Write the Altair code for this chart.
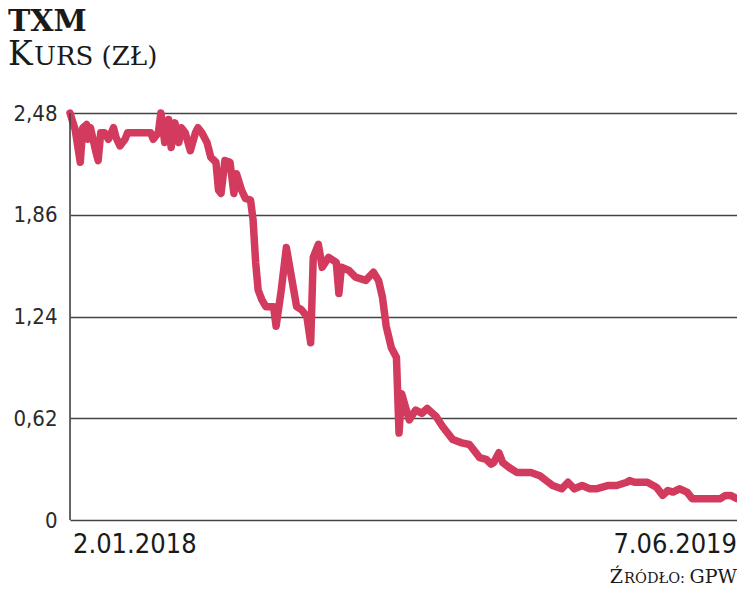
import altair as alt
import pandas as pd

# Days since 2.01.2018 and closing price (zł)
days = [0, 4, 8, 10, 13, 14, 16, 20, 22, 24, 27, 30, 34, 36, 39, 43, 45, 55, 63, 65,
        69, 71, 74, 77, 79, 82, 85, 87, 90, 94, 98, 100, 103, 107, 110, 114, 116, 118,
        121, 125, 128, 130, 134, 137, 141, 143, 145, 147, 150, 153, 159, 161, 165, 169,
        173, 177, 181, 185, 188, 190, 194, 197, 202, 208, 210, 212, 218, 223, 231, 237,
        241, 244, 247, 251, 255, 257, 259, 262, 265, 270, 275, 279, 286, 291, 299, 306,
        312, 320, 325, 329, 331, 335, 338, 343, 349, 353, 360, 367, 372, 377, 384, 389,
        394, 400, 406, 411, 420, 427, 435, 437, 441, 445, 451, 458, 463, 467, 471, 476,
        482, 486, 492, 500, 508, 512, 516, 521]
price = [2.48, 2.38, 2.18, 2.39, 2.41, 2.32, 2.39, 2.25, 2.19, 2.36, 2.36, 2.32, 2.39,
         2.33, 2.28, 2.32, 2.36, 2.36, 2.36, 2.32, 2.36, 2.48, 2.30, 2.44, 2.27, 2.42,
         2.30, 2.39, 2.36, 2.25, 2.36, 2.39, 2.36, 2.30, 2.21, 2.18, 2.01, 1.99, 2.19,
         2.18, 1.99, 2.11, 2.01, 1.96, 1.95, 1.83, 1.57, 1.40, 1.34, 1.30, 1.30, 1.18,
         1.40, 1.66, 1.48, 1.30, 1.28, 1.24, 1.08, 1.60, 1.68, 1.54, 1.60, 1.57, 1.38,
         1.54, 1.52, 1.48, 1.46, 1.51, 1.46, 1.36, 1.18, 1.05, 0.99, 0.53, 0.77, 0.69,
         0.61, 0.67, 0.65, 0.68, 0.63, 0.57, 0.49, 0.47, 0.46, 0.38, 0.37, 0.34, 0.35,
         0.41, 0.35, 0.32, 0.29, 0.29, 0.29, 0.27, 0.24, 0.21, 0.19, 0.23, 0.19, 0.21,
         0.19, 0.19, 0.21, 0.21, 0.23, 0.24, 0.23, 0.23, 0.23, 0.20, 0.15, 0.18, 0.17,
         0.19, 0.17, 0.13, 0.13, 0.13, 0.13, 0.15, 0.15, 0.13]

y_ticks = [0, 0.62, 1.24, 1.86, 2.48]
x_domain = [0, 521]
date_labels = ["2.01.2018", "7.06.2019"]

TITLE = "TXM"
SUB_BIG = "K"
SUB_SMALL = "URS (ZŁ)"
SRC_BIG1 = "Ź"
SRC_SMALL = "RÓDŁO:"
SRC_BIG2 = " GPW"

RED = "#d23b5e"
GRID = "#444444"
W, H = 667, 407

df = pd.DataFrame({"day": days, "price": price})

x_scale = alt.Scale(domain=x_domain, nice=False, zero=False)
y_scale = alt.Scale(domain=[0, 2.48], nice=False)

line = alt.Chart(df).mark_line(
    color=RED, strokeWidth=7.5, strokeJoin="round", strokeCap="round"
).encode(
    x=alt.X("day:Q", scale=x_scale, axis=None),
    y=alt.Y(
        "price:Q",
        scale=y_scale,
        axis=alt.Axis(
            values=y_ticks,
            title=None,
            ticks=False,
            domain=False,
            grid=True,
            gridColor=GRID,
            gridWidth=1.6,
            gridOpacity=1,
            labelFont="DejaVu Sans Condensed",
            labelFontSize=22,
            labelColor="#2a2a2a",
            labelPadding=13,
            labelExpr="datum.value == 0 ? '0' : replace(format(datum.value, '.2f'), '.', ',')",
        ),
    ),
)

vaxis = alt.Chart(pd.DataFrame({"v": [0]})).mark_rule(
    color=GRID, strokeWidth=1.6
).encode(x=alt.value(0), y=alt.value(0), y2=alt.value(H))


def txt(s, x, y, size, font, align="left", weight="normal", color="#1a1a1a"):
    return alt.Chart(pd.DataFrame({"t": [s]})).mark_text(
        align=align, baseline="alphabetic", fontSize=size, font=font,
        fontWeight=weight, color=color
    ).encode(text="t:N", x=alt.value(x), y=alt.value(y))


serif = "DejaVu Serif"
cond = "DejaVu Sans Condensed"

texts = [
    txt(TITLE, -62, -82, 30, serif, weight="bold"),
    txt(SUB_BIG, -62, -48, 33, serif),
    txt(SUB_SMALL, -36, -48, 26, serif),
    txt(date_labels[0], 3, 440, 27, cond),
    txt(date_labels[1], W, 440, 27, cond, align="right"),
    txt(SRC_BIG2, W, 470, 19, serif, align="right"),
    txt(SRC_SMALL, W - 52, 470, 14.5, serif, align="right"),
    txt(SRC_BIG1, W - 52 - 62, 470, 19, serif, align="right"),
]

chart = alt.layer(line, vaxis, *texts).properties(
    width=W,
    height=H,
    padding={"left": 62, "top": 105, "right": 0, "bottom": 72},
    autosize=alt.AutoSizeParams(type="none"),
).configure_view(stroke=None).configure(background="white")

chart.save("out.html", embed_options={"renderer": "svg", "actions": False})
